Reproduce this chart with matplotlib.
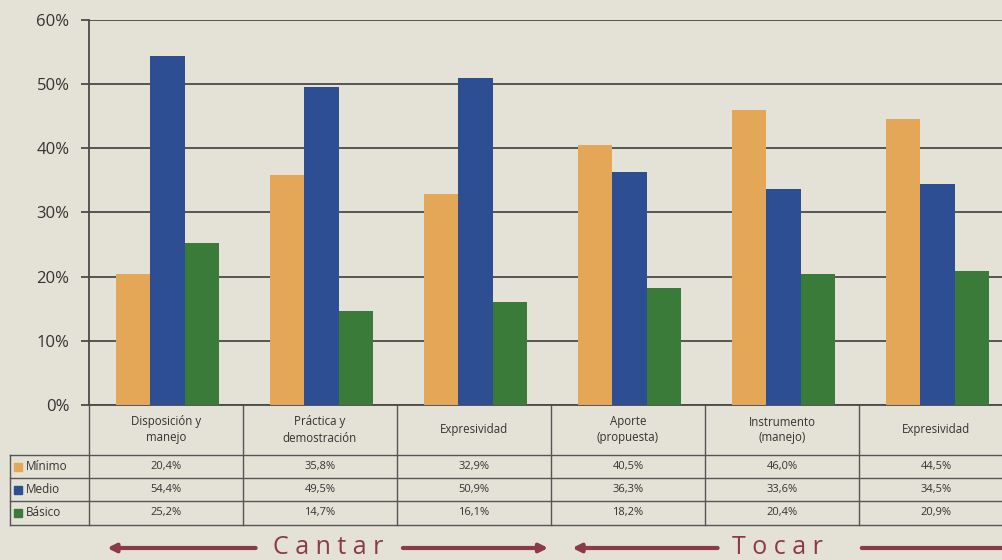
import matplotlib
matplotlib.use('Agg')
import matplotlib.pyplot as plt
import matplotlib.transforms as mtransforms

# Data
categories = ['Disposición y\nmanejo', 'Práctica y\ndemostración', 'Expresividad',
              'Aporte\n(propuesta)', 'Instrumento\n(manejo)', 'Expresividad']
series_names = ['Mínimo', 'Medio', 'Básico']
minimo = [20.4, 35.8, 32.9, 40.5, 46.0, 44.5]
medio = [54.4, 49.5, 50.9, 36.3, 33.6, 34.5]
basico = [25.2, 14.7, 16.1, 18.2, 20.4, 20.9]
groups = ['Cantar', 'Tocar']
yticks = [0, 10, 20, 30, 40, 50, 60]

colors = ['#e3a757', '#2e4e94', '#3b7b3a']
bg = '#e4e2d6'
grid_c = '#4a4a4a'
txt_c = '#333333'
arrow_c = '#8a3a48'

plt.rcParams['font.family'] = ['Open Sans', 'DejaVu Sans']

cat_px = 154
fig = plt.figure(figsize=(10.03, 5.60), dpi=100, facecolor=bg)
ax = fig.add_axes([89/1003, 1-405/560, 6*cat_px/1003, 385/560], facecolor=bg)

x = range(len(categories))
w = 0.222
for i, (vals, c) in enumerate(zip([minimo, medio, basico], colors)):
    ax.bar([k + (i-1)*w + 0.01 for k in x], [v/100 for v in vals], width=w, color=c, zorder=3)

ax.set_xlim(-0.5, 5.5)
ax.set_ylim(0, 0.6)
ax.set_yticks([t/100 for t in yticks])
ax.set_yticklabels(['%d%%' % t for t in yticks], fontsize=12, color=txt_c)
ax.yaxis.grid(True, color=grid_c, lw=1.3, zorder=0)
ax.tick_params(axis='y', length=6, width=1.3, color=grid_c, pad=8)
ax.set_xticks([])
for s in ['top', 'right']:
    ax.spines[s].set_visible(False)
ax.spines['left'].set_color(grid_c)
ax.spines['left'].set_linewidth(1.3)
ax.spines['bottom'].set_color(grid_c)
ax.spines['bottom'].set_linewidth(1.3)

# Data table below the axis
trans = mtransforms.blended_transform_factory(ax.transData, ax.transAxes)
h_head = -50/385
rows_y = [h_head, -73/385, -96/385, -120/385]
x_lab = -0.5 - 79/cat_px
line_kw = dict(color='#555555', lw=1.0, transform=trans, clip_on=False)
# left spine continued through the table
ax.plot([-0.5, -0.5], [0, rows_y[-1]], **line_kw)
ax.plot([x_lab, x_lab], [rows_y[0], rows_y[-1]], **line_kw)
for b in [k + 0.5 for k in range(len(categories) - 1)]:
    ax.plot([b, b], [0, rows_y[-1]], **line_kw)
for yy in rows_y:
    ax.plot([x_lab, 5.5], [yy, yy], **line_kw)

for k, lab in enumerate(categories):
    ax.text(k, h_head/2, lab, transform=trans, ha='center', va='center',
            fontsize=8.3, color=txt_c, linespacing=1.3)

for r, (name, vals, c) in enumerate(zip(series_names, [minimo, medio, basico], colors)):
    yc = (rows_y[r] + rows_y[r+1]) / 2
    ax.plot([x_lab + 0.055], [yc], 's', color=c, ms=5.5, transform=trans, clip_on=False)
    ax.text(x_lab + 0.1, yc, name, transform=trans, ha='left', va='center',
            fontsize=8.5, color=txt_c)
    for k, v in enumerate(vals):
        ax.text(k, yc, ('%.1f%%' % v).replace('.', ','), transform=trans,
                ha='center', va='center', fontsize=8, color=txt_c)

# Group arrows
y_arr = -143/385
arrow_kw = dict(color=arrow_c, lw=3, mutation_scale=12)
spans = [(-0.4, 0.6, 1.05, 1.52, 2.5), (2.62, 3.6, 3.97, 4.5, 5.6)]
for name, (a0, a1, tc, b0, b1) in zip(groups, spans):
    ax.annotate('', xy=(a0, y_arr), xytext=(a1, y_arr), xycoords=trans, textcoords=trans,
                arrowprops=dict(arrowstyle='-|>', **arrow_kw), annotation_clip=False)
    ax.annotate('', xy=(b1, y_arr), xytext=(b0, y_arr), xycoords=trans, textcoords=trans,
                arrowprops=dict(arrowstyle='-|>', **arrow_kw), annotation_clip=False)
    ax.text(tc, y_arr, ' '.join(name), transform=trans, ha='center', va='center',
            fontsize=18, color=arrow_c)

fig.savefig('out.png', dpi=100, facecolor=bg)
